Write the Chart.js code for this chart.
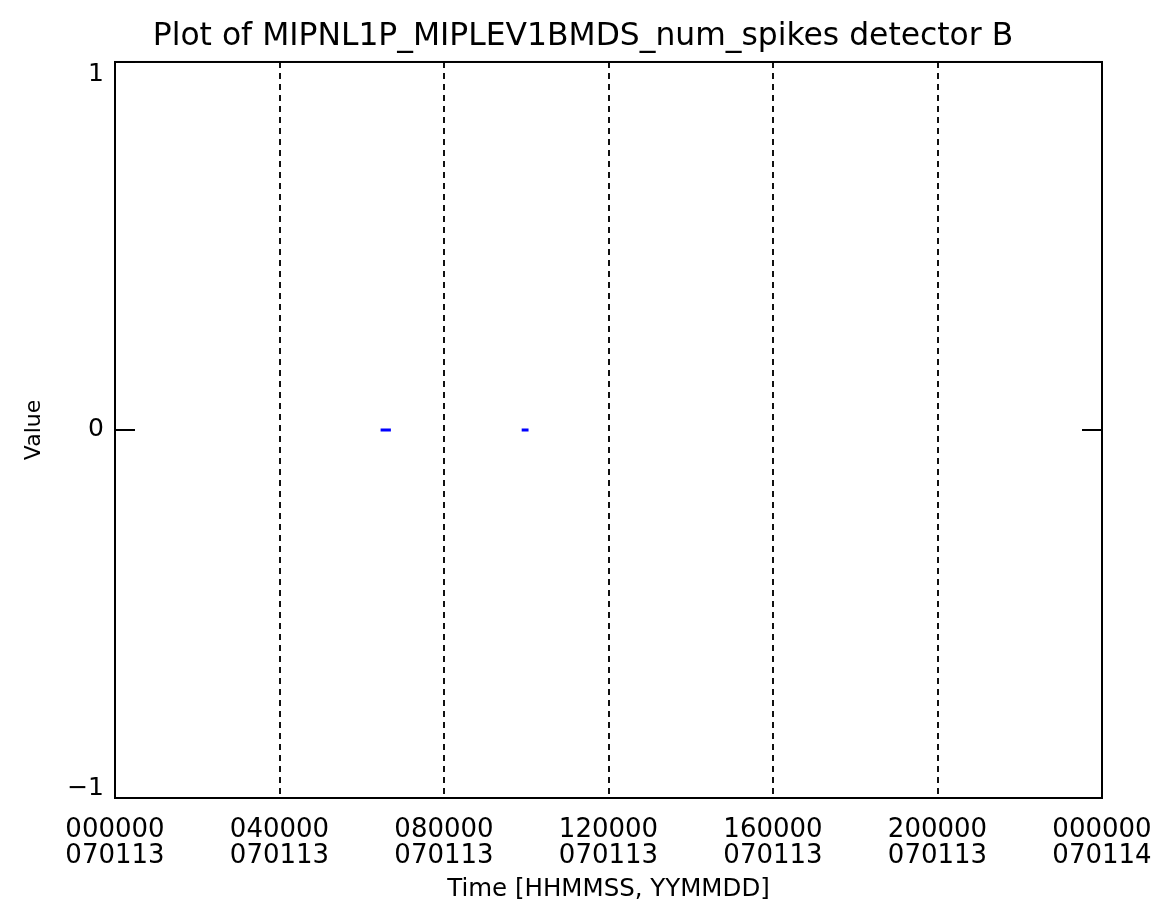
<!DOCTYPE html>
<html>
<head>
<meta charset="utf-8">
<script src="https://cdn.jsdelivr.net/npm/chart.js@4"></script>
<style>
html,body{margin:0;padding:0;background:#fff;}
#wrap{width:1160px;height:922px;position:relative;}
</style>
</head>
<body>
<div id="wrap"><canvas id="c" width="1160" height="922"></canvas></div>
<script>
// ---- data ----
const titleText = 'Plot of MIPNL1P_MIPLEV1BMDS_num_spikes detector B';
const xTitle = 'Time [HHMMSS, YYMMDD]';
const yTitle = 'Value';
const tickSeconds = [0, 14400, 28800, 43200, 57600, 72000, 86400];
const tickTimes = ['000000', '040000', '080000', '120000', '160000', '200000', '000000'];
const tickDates = ['070113', '070113', '070113', '070113', '070113', '070113', '070114'];
const yTickValues = [-1, 0, 1];
const yTickLabels = ['\u22121', '0', '1'];
// spike counts (seconds since 000000 070113); null separates segments
const spikeTimes = [23250, 24150, 30000, 35600, 36200];
const spikeValues = [0, 0, null, 0, 0];

const points = spikeTimes.map((t, i) => ({x: t, y: spikeValues[i]}));
const FONT = 'DejaVu Sans';

const framePlugin = {
  id: 'frame',
  afterDraw(chart) {
    const ctx = chart.ctx, a = chart.chartArea, ys = chart.scales.y;
    ctx.save();
    ctx.strokeStyle = '#000';
    ctx.lineWidth = 2;
    ctx.strokeRect(a.left, a.top, a.right - a.left, a.bottom - a.top);
    // inward ticks on y axis (left and right)
    yTickValues.forEach(v => {
      const py = ys.getPixelForValue(v);
      ctx.beginPath();
      ctx.moveTo(a.left, py); ctx.lineTo(a.left + 20, py);
      ctx.moveTo(a.right, py); ctx.lineTo(a.right - 20, py);
      ctx.stroke();
    });
    // y tick labels, kept inside the axis extent
    ctx.fillStyle = '#000';
    ctx.font = '25px "' + FONT + '"';
    ctx.textAlign = 'right';
    yTickValues.forEach((v, i) => {
      const py = ys.getPixelForValue(v);
      ctx.textBaseline = py <= a.top + 1 ? 'top' : (py >= a.bottom - 1 ? 'bottom' : 'middle');
      ctx.fillText(yTickLabels[i], a.left - 11, py + (ctx.textBaseline === 'top' ? 0 : (ctx.textBaseline === 'bottom' ? 3 : 0)));
    });
    ctx.restore();
  }
};

new Chart(document.getElementById('c'), {
  type: 'line',
  data: {
    datasets: [{
      data: points,
      borderColor: '#0000ff',
      backgroundColor: '#0000ff',
      borderWidth: 3,
      pointRadius: 0,
      spanGaps: false,
      tension: 0
    }]
  },
  options: {
    responsive: false,
    animation: false,
    devicePixelRatio: 1,
    layout: {padding: {left: 6, right: 0, top: 0, bottom: 0}},
    plugins: {
      legend: {display: false},
      tooltip: {enabled: false},
      title: {
        display: true,
        text: titleText,
        color: '#000',
        font: {family: FONT, size: 31.4, weight: 'normal', lineHeight: 1.2},
        padding: {top: 18, bottom: 6.3}
      }
    },
    scales: {
      x: {
        type: 'linear',
        min: 0,
        max: 86400,
        afterBuildTicks(scale) {
          scale.ticks = tickSeconds.map(v => ({value: v}));
        },
        afterFit(scale) {
          scale.height = 124;
          scale.paddingLeft = 0;
          scale.paddingRight = 58;
        },
        ticks: {
          color: '#000',
          font: {family: FONT, size: 26, lineHeight: 0.97},
          padding: 20,
          maxRotation: 0,
          autoSkip: false,
          callback(v) {
            const i = tickSeconds.indexOf(v);
            return i >= 0 ? [tickTimes[i], tickDates[i]] : '';
          }
        },
        grid: {
          drawTicks: false,
          color(ctx) {
            const v = ctx.tick && ctx.tick.value;
            return (v > 0 && v < 86400) ? '#111' : 'rgba(0,0,0,0)';
          },
          lineWidth: 2
        },
        border: {display: false, dash: [6, 5]},
        title: {
          display: true,
          text: xTitle,
          color: '#000',
          font: {family: FONT, size: 24.5},
          padding: {top: 0, bottom: 18}
        }
      },
      y: {
        type: 'linear',
        min: -1,
        max: 1,
        afterBuildTicks(scale) {
          scale.ticks = yTickValues.map(v => ({value: v}));
        },
        afterFit(scale) { scale.width = 109; },
        ticks: {display: false},
        grid: {display: false},
        border: {display: false},
        title: {
          display: true,
          text: yTitle,
          color: '#000',
          font: {family: FONT, size: 22},
          padding: {top: 15, bottom: 0}
        }
      }
    }
  },
  plugins: [framePlugin]
});
</script>
</body>
</html>
